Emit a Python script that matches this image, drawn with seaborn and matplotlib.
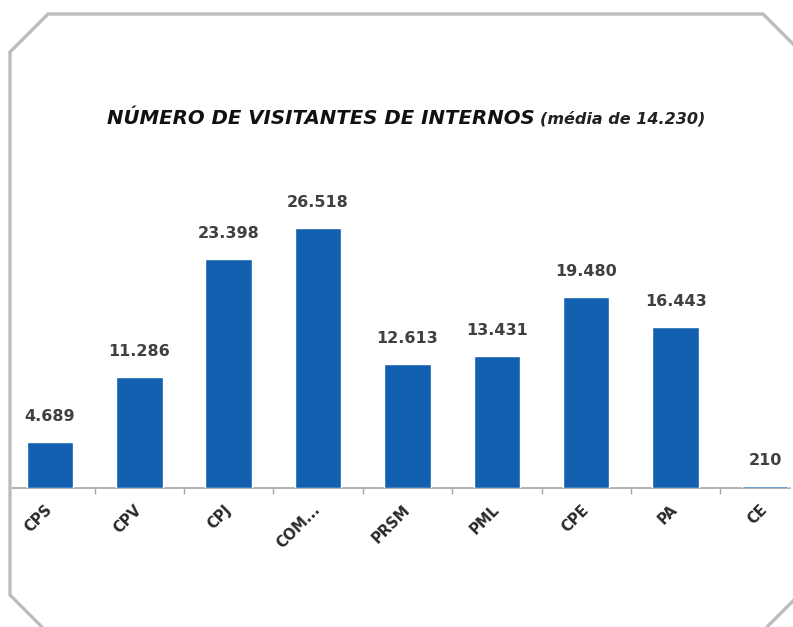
import numpy as np
import matplotlib.pyplot as plt
from matplotlib.lines import Line2D
import seaborn as sns

categorias = ["CPS", "CPV", "CPJ", "COM...", "PRSM", "PML", "CPE", "PA", "CE"]
visitantes = [4689, 11286, 23398, 26518, 12613, 13431, 19480, 16443, 210]
titulo = "NÚMERO DE VISITANTES DE INTERNOS"
subtitulo = "(média de 14.230)"

sns.set_style("white")
plt.rcParams['font.family'] = ['DejaVu Sans']

W, H = 793, 627
fig = plt.figure(figsize=(W / 100, H / 100), dpi=100)
fig.patch.set_facecolor('white')

ax = fig.add_axes([11 / W, 139 / H, 779 / W, 338 / H])
sns.barplot(x=categorias, y=visitantes, color="#135fb0", saturation=1,
            width=0.52, ax=ax)
ax.set_xlim(-0.436, 8.28)
ax.set_ylim(0, 34500)
ax.set_xlabel("")
ax.set_ylabel("")
ax.set_yticks([])

for s in ['left', 'right', 'top']:
    ax.spines[s].set_visible(False)
ax.spines['bottom'].set_color('#a6a6a6')
ax.spines['bottom'].set_linewidth(1.2)
ax.spines['bottom'].set_zorder(0.5)

# marcas entre categorias
ax.set_xticks(np.arange(0.5, 8, 1), minor=True)
ax.tick_params(axis='x', which='minor', bottom=True, length=4, width=1,
               color='#a6a6a6', direction='out')
ax.tick_params(axis='x', which='major', bottom=True, length=0, pad=14)

for lab in ax.get_xticklabels():
    lab.set_rotation(45)
    lab.set_ha('right')
    lab.set_va('center')
    lab.set_rotation_mode('anchor')
    lab.set_fontsize(10.5)
    lab.set_fontweight('bold')
    lab.set_color('#2a2a2a')

rotulos = [f"{v:,}".replace(",", ".") for v in visitantes]
ax.bar_label(ax.containers[0], labels=rotulos, padding=13, fontsize=11.5,
             fontweight='bold', color='#404040')

# título
fig.text(535 / W, 1 - 124 / H, titulo, ha='right', va='baseline',
         fontsize=14.2, fontweight='bold', style='italic', color='#111111')
fig.text(540 / W, 1 - 124 / H, subtitulo, ha='left', va='baseline',
         fontsize=11.5, fontweight='bold', style='italic', color='#222222')

# moldura octogonal
px = [10, 48, 763, 801, 801, 767]
py = [52, 14, 14, 52, 593, 627]
fig.add_artist(Line2D([x / W for x in px], [1 - y / H for y in py],
                      color='#bdbdbd', lw=2.4, solid_joinstyle='miter'))
fig.add_artist(Line2D([10 / W, 10 / W, 42 / W], [1 - 52 / H, 1 - 595 / H, 1 - 627 / H],
                      color='#bdbdbd', lw=2.4, solid_joinstyle='miter'))

fig.savefig("out.png", dpi=100, facecolor='white')
